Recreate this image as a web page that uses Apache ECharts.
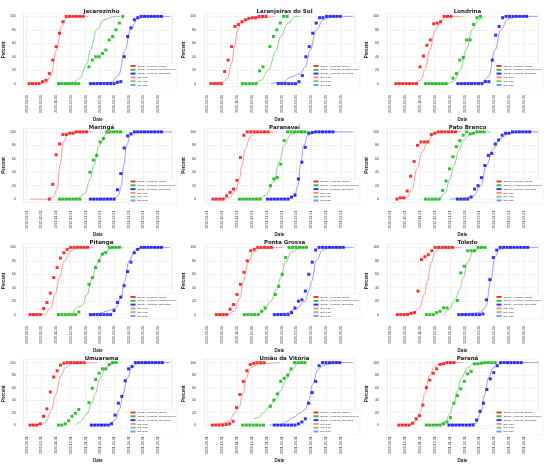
<!DOCTYPE html>
<html><head><meta charset="utf-8">
<script src="https://cdn.jsdelivr.net/npm/echarts@6/dist/echarts.min.js"></script>
<style>html,body{margin:0;padding:0;background:#fff}#c{width:550px;height:464px}</style>
</head><body><div id="c"></div>
<script>
// Day offsets are days after 2020-09-01; weekly observation series start at *Start day.
const regions = ["Jacarezinho","Laranjeiras do Sul","Londrina","Maringá","Paranavaí","Pato Branco","Pitanga","Ponta Grossa","Toledo","Umuarama","União da Vitória","Paraná"];
const sowingStart = [5,8,12,47,12,14,7,19,15,7,11,18];
const sowing = [
[0,0,0,0,3,5,15,35,55,75,92,100,100,100,100,100,100],
[0,0,0,0,18,35,55,85,88,92,95,97,98,98,100,100,100],
[0,0,0,0,0,0,0,25,41,57,65,89,90,92,100,100,100],
[0,22,66,82,96,96,98,98,100,100,100,100],
[0,0,0,0,5,10,15,28,62,95,100,100,100,100,100,100,100],
[0,2,2,12,34,56,80,85,85,85,96,98,100,100,100,100,100,100],
[0,0,0,0,9,18,32,55,70,84,92,97,100,100,100,100,100,100],
[0,0,0,0,8,15,30,45,63,80,95,97,100,100,100,100,100],
[0,0,0,0,2,3,35,82,86,89,95,100,100,100,100,100,100],
[0,0,0,2,14,26,53,77,87,96,99,100,100,100,100,100,100],
[0,0,0,0,1,2,6,28,49,70,87,97,99,100,100,100],
[0,0,0,0,3,10,15,32,60,72,83,90,97,98,100,100,100]];
const seedStart = [66,72,72,68,66,72,66,76,74,66,73,74];
const seed = [
[0,0,0,0,0,0,0,null,null,25,35,40,40,45,50,65,70,80,90,100],
[0,0,0,0,0,19,25,null,55,70,80,90,100,100],
[0,0,0,0,0,0,0,null,8,15,35,39,65,65,88,98,100],
[0,0,0,0,0,0,0,null,null,40,58,65,85,90,100,100,100,100,100],
[0,0,0,0,0,0,0,null,null,20,30,32,52,87,100,100,100,100,100,100],
[0,0,0,0,0,13,27,45,63,78,87,95,100,97,98,100,100,100],
[0,0,0,0,0,0,4,null,null,45,55,70,80,90,92,100,100,100,100],
[0,0,0,0,0,5,10,null,null,30,42,60,85,100,100,100,100,100,100],
[0,0,0,3,5,10,10,null,null,21,62,72,95,95,95,100,100,100],
[0,0,2,7,14,19,25,null,null,36,59,73,83,90,90,97,100,100],
[0,0,0,0,0,0,0,null,30,40,50,70,75,80,90,100,100,100,100],
[0,0,0,0,0,2,5,12,35,47,58,70,82,86,98,98,99,100,100,100,100]];
const harvStart = [132,145,138,132,123,137,132,137,140,134,137,120];
const harvest = [
[0,0,0,0,0,0,0,0,2,3,40,70,83,95,98,100,100,100,100,100,100,100],
[0,0,0,0,0,0,3,12,40,55,75,90,98,98,100,100,100,100,100],
[0,0,0,0,0,0,0,0,3,3,35,72,85,98,100,100,100,100,100,100,100],
[0,0,0,0,0,0,0,0,14,38,76,94,97,100,100,100,100,100,100,100,100,100],
[0,0,0,0,0,0,0,3,6,30,55,77,98,99,100,100,100,100,100,100],
[0,0,0,0,3,15,20,32,50,65,68,82,88,95,98,98,100,100,100,100,100,100],
[0,0,0,0,0,0,0,6,18,26,43,64,78,92,97,100,100,100,100,100,100,100],
[0,0,0,0,0,3,10,20,22,35,60,78,96,100,100,100,100,100,100,100,100],
[0,0,0,0,0,0,0,1,22,52,85,96,100,100,100,100,100,100,100,100,100],
[0,0,0,0,0,0,2,16,35,46,71,90,94,100,100,100,100,100,100,100,100,100],
[0,0,0,0,0,0,0,2,5,10,35,52,70,95,100,100,100,100,100,100],
[0,0,0,0,0,0,0,0,8,22,35,57,74,84,95,100,100,100,100,100,100,100]];
const fitSOS = [
[[5,0],[40,1],[50,12],[62,50],[72,85],[84,98],[100,100],[127,100]],
[[8,0],[30,2],[42,8],[50,30],[56,55],[62,80],[70,90],[90,97],[139,100]],
[[12,0],[50,0],[62,5],[72,22],[81,50],[92,80],[105,95],[118,100],[149,100]],
[[7,0],[40,0],[55,3],[63,15],[69,50],[76,85],[85,97],[100,100],[137,100]],
[[12,0],[45,2],[58,12],[66,30],[71,50],[78,75],[88,93],[100,99],[140,100]],
[[14,0],[34,2],[45,15],[55,45],[65,70],[78,88],[90,97],[101,100],[145,100]],
[[7,0],[38,1],[50,10],[60,32],[68,55],[78,80],[92,95],[105,100],[139,100]],
[[19,0],[40,0],[55,5],[67,25],[74,50],[84,78],[95,93],[110,99],[155,100]],
[[15,0],[45,2],[60,10],[70,30],[76,50],[84,78],[92,93],[101,99],[145,100]],
[[7,0],[30,1],[40,5],[50,22],[61,50],[70,78],[80,92],[95,99],[145,100]],
[[11,0],[30,2],[45,6],[57,20],[65,28],[73,50],[80,75],[88,92],[100,96],[125,99],[149,100]],
[[18,0],[40,1],[52,6],[62,22],[71,50],[80,78],[90,93],[100,98],[115,100],[150,100]]];
const fitPOS = [
[[66,0],[95,1],[110,8],[125,30],[132,50],[145,80],[160,95],[183,100],[193,100]],
[[98,0],[110,5],[125,20],[140,48],[150,70],[165,90],[180,100],[190,100]],
[[72,0],[118,0],[130,4],[143,20],[155,50],[167,80],[180,95],[193,100]],
[[68,0],[105,1],[120,8],[132,30],[139,50],[150,80],[165,97],[176,100],[203,100]],
[[66,0],[105,1],[120,6],[135,25],[147,55],[157,80],[170,96],[185,100],[210,100]],
[[102,0],[112,10],[122,30],[130,50],[140,72],[150,88],[165,97],[180,100],[205,100]],
[[96,0],[100,8],[105,11],[115,13],[125,30],[135,52],[145,75],[160,93],[180,100],[200,100]],
[[105,0],[115,5],[130,20],[142,38],[150,55],[160,78],[172,93],[190,100],[205,100]],
[[110,0],[120,8],[132,22],[142,38],[149,55],[158,78],[170,95],[186,100],[195,100]],
[[100,0],[110,5],[125,18],[135,35],[142,50],[152,75],[165,93],[179,100],[190,100]],
[[95,10],[105,12],[115,20],[130,33],[140,42],[150,55],[160,72],[172,88],[185,99],[200,100]],
[[71,0],[100,1],[112,5],[122,18],[130,35],[137,55],[145,75],[158,92],[172,99],[200,100]]];
const fitEOS = [
[[132,0],[175,2],[190,12],[204,50],[215,80],[230,97],[250,100],[297,100]],
[[130,0],[155,2],[170,10],[190,15],[200,25],[210,50],[222,80],[237,95],[255,100],[297,100]],
[[138,0],[185,1],[200,10],[214,50],[225,80],[240,96],[260,100],[301,100]],
[[132,0],[180,1],[190,5],[196,20],[201,50],[207,80],[215,95],[230,100],[301,100]],
[[123,0],[165,1],[178,5],[185,20],[190,50],[197,80],[205,95],[220,100],[297,100]],
[[122,0],[150,1],[170,5],[185,20],[196,50],[210,75],[225,90],[240,97],[260,100],[301,100]],
[[132,0],[150,2],[170,6],[185,10],[195,25],[203,50],[212,80],[225,97],[240,100],[297,100]],
[[137,0],[160,2],[180,8],[200,20],[207,35],[213,50],[222,80],[235,96],[250,100],[297,100]],
[[140,0],[170,2],[185,4],[195,12],[205,50],[213,85],[222,97],[235,100],[301,100]],
[[134,0],[170,1],[183,8],[192,25],[200,50],[208,75],[218,92],[232,100],[297,100]],
[[127,0],[150,1],[160,5],[175,12],[190,20],[200,25],[207,40],[215,65],[225,88],[237,96],[260,100],[297,100]],
[[118,0],[160,1],[175,3],[185,20],[193,50],[200,75],[210,92],[225,100],[304,100]]];
const names = ["CEPEA_progress_sowing","CEPEA_progress_beginning seed","CEPEA_progress_harvesting","Est. SOS","Est. POS","Est. EOS"];
const yTicks = [0,20,40,60,80,100];

const base = Date.UTC(2020,8,1), DAY = 86400000;
const toT = d => base + d*DAY;
const weekly = (s, arr) => arr.map((v,i)=>[toT(s+7*i), v]);
const fit = arr => arr.map(p=>[toT(p[0]), p[1]]);

const grid=[], xAxis=[], yAxis=[], series=[], title=[], legend=[];
const colW=183, rowH=115.5;
regions.forEach((name,k)=>{
  const c=k%3, r=Math.floor(k/3);
  const L=c*colW+21, T=r*rowH+13;
  grid.push({left:L, top:T, width:151, height:74, containLabel:false, show:true, borderColor:'#e6e6e6', borderWidth:0.5});
  title.push({text:name, left:L+75.5, top:T-9, textAlign:'center', textStyle:{fontSize:5.5, fontWeight:'bold', color:'#222', fontFamily:'DejaVu Sans'}});
  xAxis.push({type:'time', gridIndex:k, min:toT(-6), max:toT(301), minInterval:28*DAY, maxInterval:31*DAY,
    name:'Date', nameLocation:'middle', nameGap:24, nameTextStyle:{fontSize:4.5, fontWeight:'bold', color:'#222'},
    axisLine:{show:false}, axisTick:{show:false},
    axisLabel:{rotate:90, fontSize:3.5, color:'#333', formatter:'{yyyy}-{MM}-{dd}', hideOverlap:false, showMinLabel:false, showMaxLabel:false},
    splitLine:{show:true, lineStyle:{color:'#e6e6e6', width:0.5}}});
  yAxis.push({type:'value', gridIndex:k, min:-5, max:105, interval:20,
    name:'Percent', nameLocation:'middle', nameGap:12, nameTextStyle:{fontSize:4.5, fontWeight:'bold', color:'#222'},
    axisLine:{show:false},
    axisLabel:{fontSize:3.5, color:'#333', customValues:yTicks}, axisTick:{show:false, customValues:yTicks},
    splitLine:{show:true, lineStyle:{color:'#e6e6e6', width:0.5}}});
  const cols=['#ff0000','#00b000','#0000ff'], lc=['#ff9090','#80cc80','#9090ff'];
  [weekly(sowingStart[k],sowing[k]), weekly(seedStart[k],seed[k]), weekly(harvStart[k],harvest[k])].forEach((d,i)=>{
    series.push({type:'scatter', name:names[i], xAxisIndex:k, yAxisIndex:k, data:d, symbol:'rect', symbolSize:3, itemStyle:{color:cols[i]}, z:3});
  });
  [fitSOS[k],fitPOS[k],fitEOS[k]].forEach((d,i)=>{
    series.push({type:'line', name:names[3+i], xAxisIndex:k, yAxisIndex:k, data:fit(d), smooth:0.4, smoothMonotone:'x', showSymbol:false, symbol:'none', lineStyle:{color:lc[i], width:0.9}, itemStyle:{color:lc[i]}, z:2});
  });
  legend.push({data:names, orient:'vertical', left:L+107, top:T+50, itemWidth:5, itemHeight:2, itemGap:0.8, padding:1.5,
    backgroundColor:'#fff', borderColor:'#ddd', borderWidth:0.3, selectedMode:false, textStyle:{fontSize:2.5, color:'#333', padding:[0,0,0,-3]}});
});
const chart=echarts.init(document.getElementById('c'),null,{renderer:'canvas'});
chart.setOption({backgroundColor:'#fff', animation:false, title, grid, xAxis, yAxis, series, legend});
</script></body></html>
